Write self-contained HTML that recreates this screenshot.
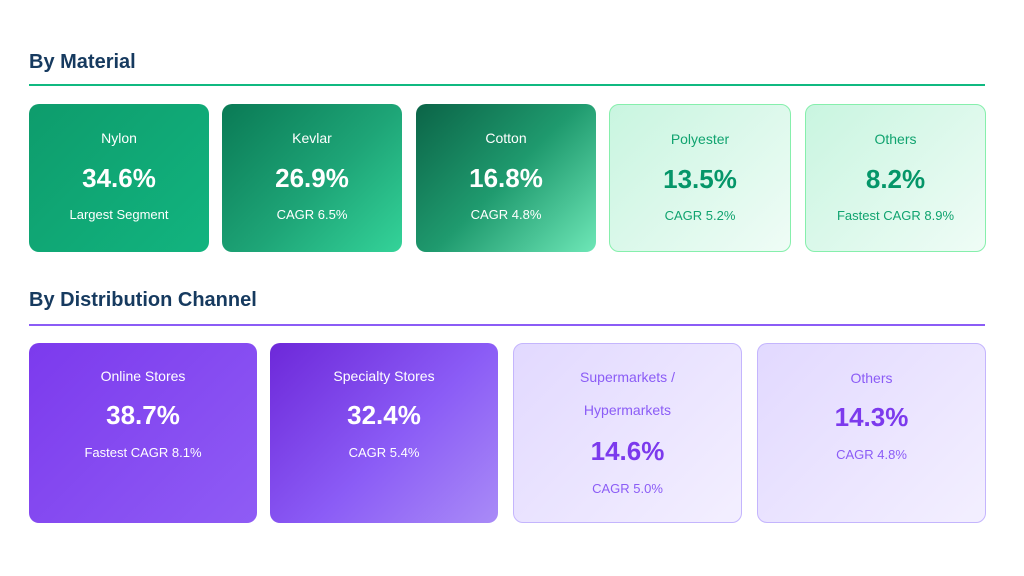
<!DOCTYPE html>
<html><head><meta charset="utf-8"><style>
*{margin:0;padding:0;box-sizing:border-box}
body{width:1024px;height:576px;background:#fff;font-family:"Liberation Sans",sans-serif;position:relative;overflow:hidden}
.h{position:absolute;left:29px;font-weight:bold;font-size:20px;color:#163a5f}
.line{position:absolute;left:29px;width:956px;height:2px}
.c{position:absolute;border-radius:10px;text-align:center}
.c .l{position:absolute;left:0;right:0;font-size:14px}
.c .v{position:absolute;left:0;right:0;font-size:26px;font-weight:bold}
.c .s{position:absolute;left:0;right:0;font-size:13px}
.g .l{top:26px}.g .v{top:59px}.g .s{top:103px}
.p .l{top:25px}.p .v{top:56px}.p .s{top:102px}
.w{color:#fff}
.lg{color:#059669;border:1px solid #86efac;background:linear-gradient(135deg,#c9f5e0,#effcf6)}
.lg .l,.lg .s{color:#10a36f}
.lp{color:#7c3aed;border:1px solid #c4b5fd;background:linear-gradient(135deg,#e2d9ff,#f3efff)}
.lp .l,.lp .s{color:#8b5cf6}
</style></head><body>
<div class="h" style="top:51px">By Material</div>
<div class="line" style="top:84px;background:#10b981"></div>
<div class="c g w" style="left:29px;top:104px;width:180px;height:148px;background:linear-gradient(135deg,#0e9c6c,#12b47f)"><div class="l">Nylon</div><div class="v">34.6%</div><div class="s">Largest Segment</div></div>
<div class="c g w" style="left:222px;top:104px;width:180px;height:148px;background:linear-gradient(135deg,#0a7a55,#1ea577 55%,#34d399)"><div class="l">Kevlar</div><div class="v">26.9%</div><div class="s">CAGR 6.5%</div></div>
<div class="c g w" style="left:416px;top:104px;width:180px;height:148px;background:linear-gradient(135deg,#0b6447,#1f9a6e 50%,#6ee7b7)"><div class="l">Cotton</div><div class="v">16.8%</div><div class="s">CAGR 4.8%</div></div>
<div class="c g lg" style="left:609px;top:104px;width:182px;height:148px"><div class="l">Polyester</div><div class="v">13.5%</div><div class="s">CAGR 5.2%</div></div>
<div class="c g lg" style="left:805px;top:104px;width:181px;height:148px"><div class="l">Others</div><div class="v">8.2%</div><div class="s">Fastest CAGR 8.9%</div></div>

<div class="h" style="top:289px">By Distribution Channel</div>
<div class="line" style="top:324px;background:#8b5cf6"></div>
<div class="c p w" style="left:29px;top:343px;width:228px;height:180px;background:linear-gradient(135deg,#7c3aed,#8f5cf5)"><div class="l">Online Stores</div><div class="v" style="top:57px">38.7%</div><div class="s">Fastest CAGR 8.1%</div></div>
<div class="c p w" style="left:270px;top:343px;width:228px;height:180px;background:linear-gradient(135deg,#6d28d9,#8b5cf6 55%,#a98bf7)"><div class="l">Specialty Stores</div><div class="v" style="top:57px">32.4%</div><div class="s">CAGR 5.4%</div></div>
<div class="c p lp" style="left:513px;top:343px;width:229px;height:180px"><div class="l" style="top:17px;line-height:33px">Supermarkets /<br>Hypermarkets</div><div class="v" style="top:92px">14.6%</div><div class="s" style="top:137px">CAGR 5.0%</div></div>
<div class="c p lp" style="left:757px;top:343px;width:229px;height:180px"><div class="l" style="top:26px">Others</div><div class="v" style="top:58px">14.3%</div><div class="s" style="top:103px">CAGR 4.8%</div></div>
</body></html>
